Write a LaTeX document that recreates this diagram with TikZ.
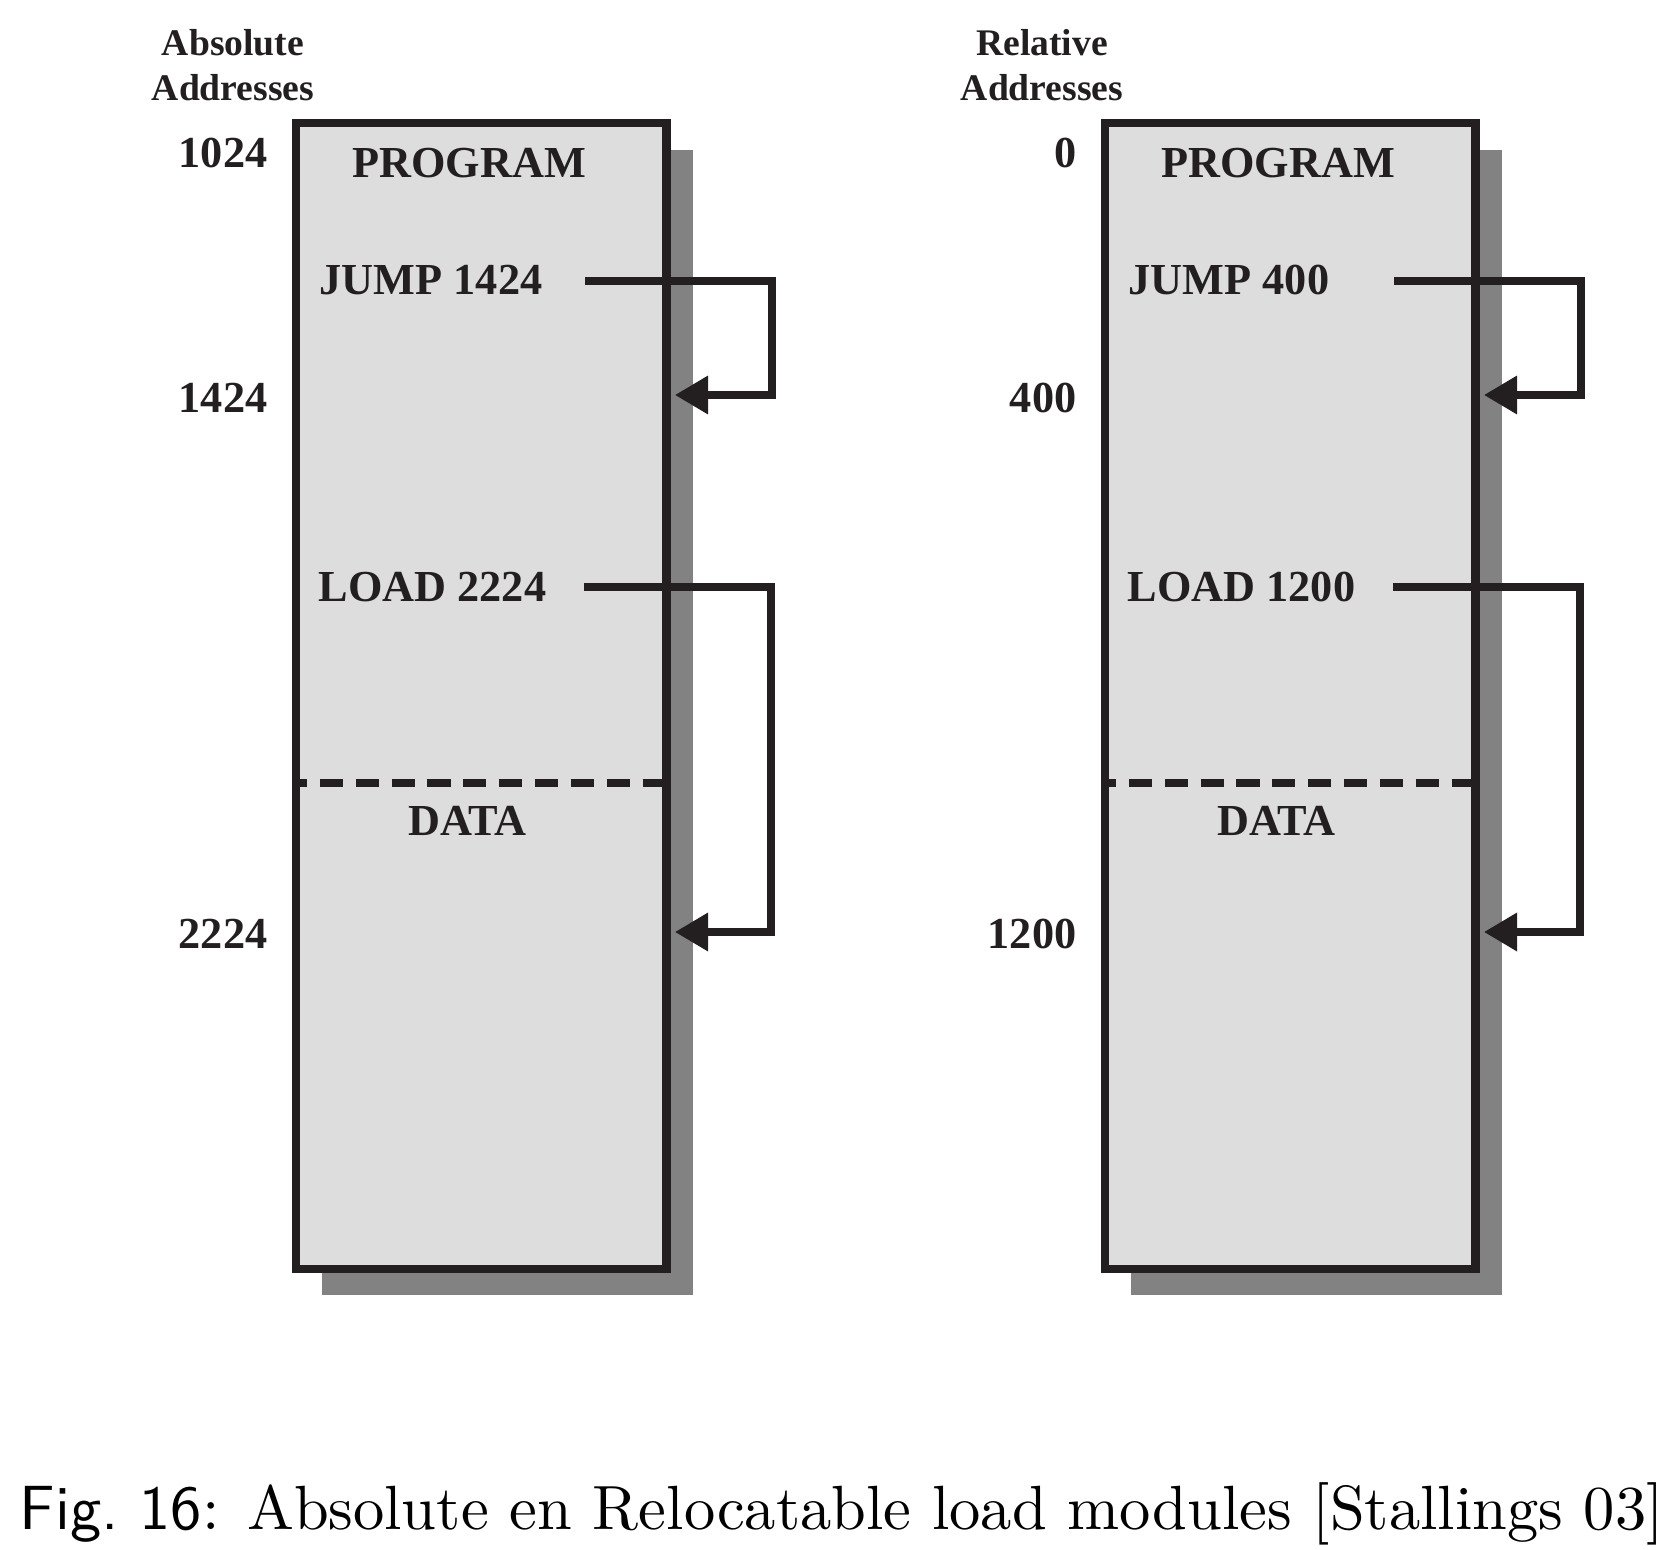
\documentclass[tikz,border=0pt]{standalone}
\usepackage{fontspec}
\usepackage{graphicx}
\usepackage{tikz}
\usetikzlibrary{arrows.meta}
\newfontfamily\diagfont{Liberation Serif}
\definecolor{memgray}{HTML}{DDDDDD}
\definecolor{shadegray}{HTML}{828282}
\definecolor{inkblack}{HTML}{231F20}

\begin{document}
\begin{tikzpicture}[
    modulebox/.style={draw=inkblack,fill=memgray,line width=2.3pt},
    boxshadow/.style={fill=shadegray,draw=none},
    boundary/.style={draw=inkblack,line width=2.3pt,dash pattern=on 6.6pt off 3.6pt,dash phase=3.4pt},
    reflink/.style={draw=inkblack,line width=2pt,-{Triangle[length=9.4pt,width=10.5pt]}},
    instr/.style={inner sep=0pt,text=inkblack,font=\diagfont\bfseries\fontsize{12.6}{15}\selectfont},
    addr/.style={instr,anchor=base east},
    heading/.style={inner sep=0pt,anchor=base,text=inkblack,font=\diagfont\bfseries\fontsize{10.7}{12.5}\selectfont}
  ]
  \useasboundingbox (0,0) rectangle (16.76,-15.5);

  % left: absolute load module
  \fill[boxshadow] (3.22,-1.50) rectangle (6.93,-12.95);
  \draw[modulebox] (2.96,-1.23) rectangle (6.665,-12.69);
  \draw[boundary] (2.96,-7.83) -- (6.665,-7.83);
  \node[heading] (absA) at (2.33,-0.56) {Absolute};
  \node[heading] (absB) at (2.33,-1.00) {Addresses};
  \node[instr,anchor=base] (aprog) at (4.69,-1.78) {PROGRAM};
  \node[instr,anchor=base west] (ajump) at (3.19,-2.94) {JUMP 1424};
  \node[instr,anchor=base west] (aload) at (3.18,-6.01) {LOAD 2224};
  \node[instr,anchor=base] (adata) at (4.675,-8.35) {DATA};
  \node[addr] (a1024) at (2.68,-1.67) {1024};
  \node[addr] (a1424) at (2.68,-4.12) {1424};
  \node[addr] (a2224) at (2.68,-9.48) {2224};
  \coordinate (ajumpsrc) at (5.85,-2.81);
  \coordinate (ajumpdst) at (6.75,-3.95);
  \coordinate (aloadsrc) at (5.84,-5.87);
  \coordinate (aloaddst) at (6.75,-9.32);
  \draw[reflink] (ajumpsrc) -- ++(1.87,0) |- (ajumpdst);
  \draw[reflink] (aloadsrc) -- ++(1.87,0) |- (aloaddst);

  % right: relocatable load module
  \begin{scope}[xshift=8.09cm]
    \fill[boxshadow] (3.22,-1.50) rectangle (6.93,-12.95);
    \draw[modulebox] (2.96,-1.23) rectangle (6.665,-12.69);
    \draw[boundary] (2.96,-7.83) -- (6.665,-7.83);
    \node[heading] (relA) at (2.33,-0.56) {Relative};
    \node[heading] (relB) at (2.33,-1.00) {Addresses};
    \node[instr,anchor=base] (rprog) at (4.69,-1.78) {PROGRAM};
    \node[instr,anchor=base west] (rjump) at (3.19,-2.94) {JUMP 400};
    \node[instr,anchor=base west] (rload) at (3.18,-6.01) {LOAD 1200};
    \node[instr,anchor=base] (rdata) at (4.675,-8.35) {DATA};
    \node[addr] (r0) at (2.68,-1.67) {0};
    \node[addr] (r400) at (2.68,-4.12) {400};
    \node[addr] (r1200) at (2.68,-9.48) {1200};
    \coordinate (rjumpsrc) at (5.85,-2.81);
    \coordinate (rjumpdst) at (6.75,-3.95);
    \coordinate (rloadsrc) at (5.84,-5.87);
    \coordinate (rloaddst) at (6.75,-9.32);
    \draw[reflink] (rjumpsrc) -- ++(1.87,0) |- (rjumpdst);
    \draw[reflink] (rloadsrc) -- ++(1.87,0) |- (rloaddst);
  \end{scope}

  % caption
  \node[inner sep=0pt,anchor=base west] (caption) at (0.19,-15.29)
    {\resizebox{16.44cm}{!}{{\sffamily Fig.~16}: Absolute en Relocatable load modules [Stallings 03]}};
\end{tikzpicture}
\end{document}
